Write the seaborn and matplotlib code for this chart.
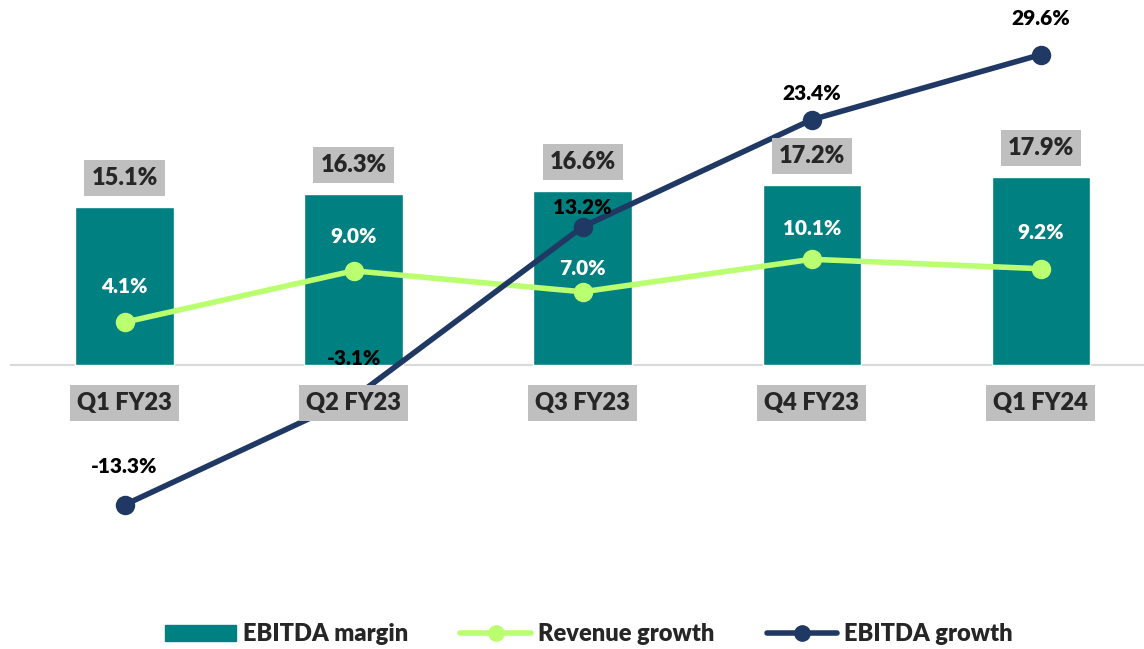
import matplotlib.pyplot as plt
import matplotlib.patches as mpatches
import matplotlib.lines as mlines
import pandas as pd
import seaborn as sns

quarters = ["Q1 FY23", "Q2 FY23", "Q3 FY23", "Q4 FY23", "Q1 FY24"]
ebitda_margin = [15.1, 16.3, 16.6, 17.2, 17.9]
revenue_growth = [4.1, 9.0, 7.0, 10.1, 9.2]
ebitda_growth = [-13.3, -3.1, 13.2, 23.4, 29.6]

# label offsets in points (above the point)
rev_offsets = [26, 25, 17, 22, 26]
ebitda_offsets = [28, 28, 14, 19, 26]

TEAL = "#008080"
GREEN = "#B9FF70"
NAVY = "#203864"
GREY = "#BFBFBF"

if __name__ == '__main__':
    sns.set_style("white")
    plt.rcParams['font.family'] = ['Lato', 'DejaVu Sans']
    plt.rcParams['font.weight'] = 'bold'

    df = pd.DataFrame({"quarter": quarters, "margin": ebitda_margin,
                       "rev": revenue_growth, "ebitda": ebitda_growth})

    fig = plt.figure(figsize=(11.44, 6.49), dpi=100)
    ax = fig.add_axes([0.0087, 0.091, 0.9913, 0.909])

    sns.barplot(data=df, x="quarter", y="margin", color=TEAL, width=0.43,
                saturation=1, ax=ax, zorder=2)
    sns.pointplot(data=df, x="quarter", y="rev", color=GREEN, markers="o",
                  markersize=11, linewidth=4, ax=ax, zorder=3)
    sns.pointplot(data=df, x="quarter", y="ebitda", color=NAVY, markers="o",
                  markersize=11, linewidth=4, ax=ax, zorder=4)

    ax.axhline(0, color="#D9D9D9", lw=1.5, zorder=1)
    ax.set_xlim(-0.5, 4.45)
    ax.set_ylim(-21.4, 34.8)
    ax.set_xticks([])
    ax.set_yticks([])
    ax.set_xlabel("")
    ax.set_ylabel("")
    for s in ax.spines.values():
        s.set_visible(False)

    box = dict(boxstyle="square,pad=0.3", fc=GREY, ec="none")
    for i, q in enumerate(quarters):
        ax.text(i, -3.6, q, ha="center", va="center", fontsize=17,
                fontweight="heavy", bbox=box, zorder=5)
        ax.annotate(f"{ebitda_margin[i]:.1f}%", (i, ebitda_margin[i]),
                    xytext=(0, 21), textcoords="offset points", ha="center",
                    va="center", fontsize=17, fontweight="heavy", bbox=box, zorder=5)
        ax.annotate(f"{revenue_growth[i]:.1f}%", (i, revenue_growth[i]),
                    xytext=(0, rev_offsets[i]), textcoords="offset points",
                    ha="center", va="center", fontsize=15, fontweight="heavy",
                    color="white", zorder=6)
        ax.annotate(f"{ebitda_growth[i]:.1f}%", (i, ebitda_growth[i]),
                    xytext=(0, ebitda_offsets[i]), textcoords="offset points",
                    ha="center", va="center", fontsize=15, fontweight="heavy",
                    color="black", zorder=6)

    handles = [mpatches.Patch(color=TEAL, label="EBITDA margin"),
               mlines.Line2D([], [], color=GREEN, lw=4, marker="o", markersize=11,
                             label="Revenue growth"),
               mlines.Line2D([], [], color=NAVY, lw=4, marker="o", markersize=11,
                             label="EBITDA growth")]
    fig.legend(handles=handles, loc="center", bbox_to_anchor=(0.515, 0.023),
               ncol=3, frameon=False, prop={"size": 17, "weight": "heavy"},
               handlelength=3.0, columnspacing=2.2, handletextpad=0.3)

    fig.savefig("out.png", dpi=100)
